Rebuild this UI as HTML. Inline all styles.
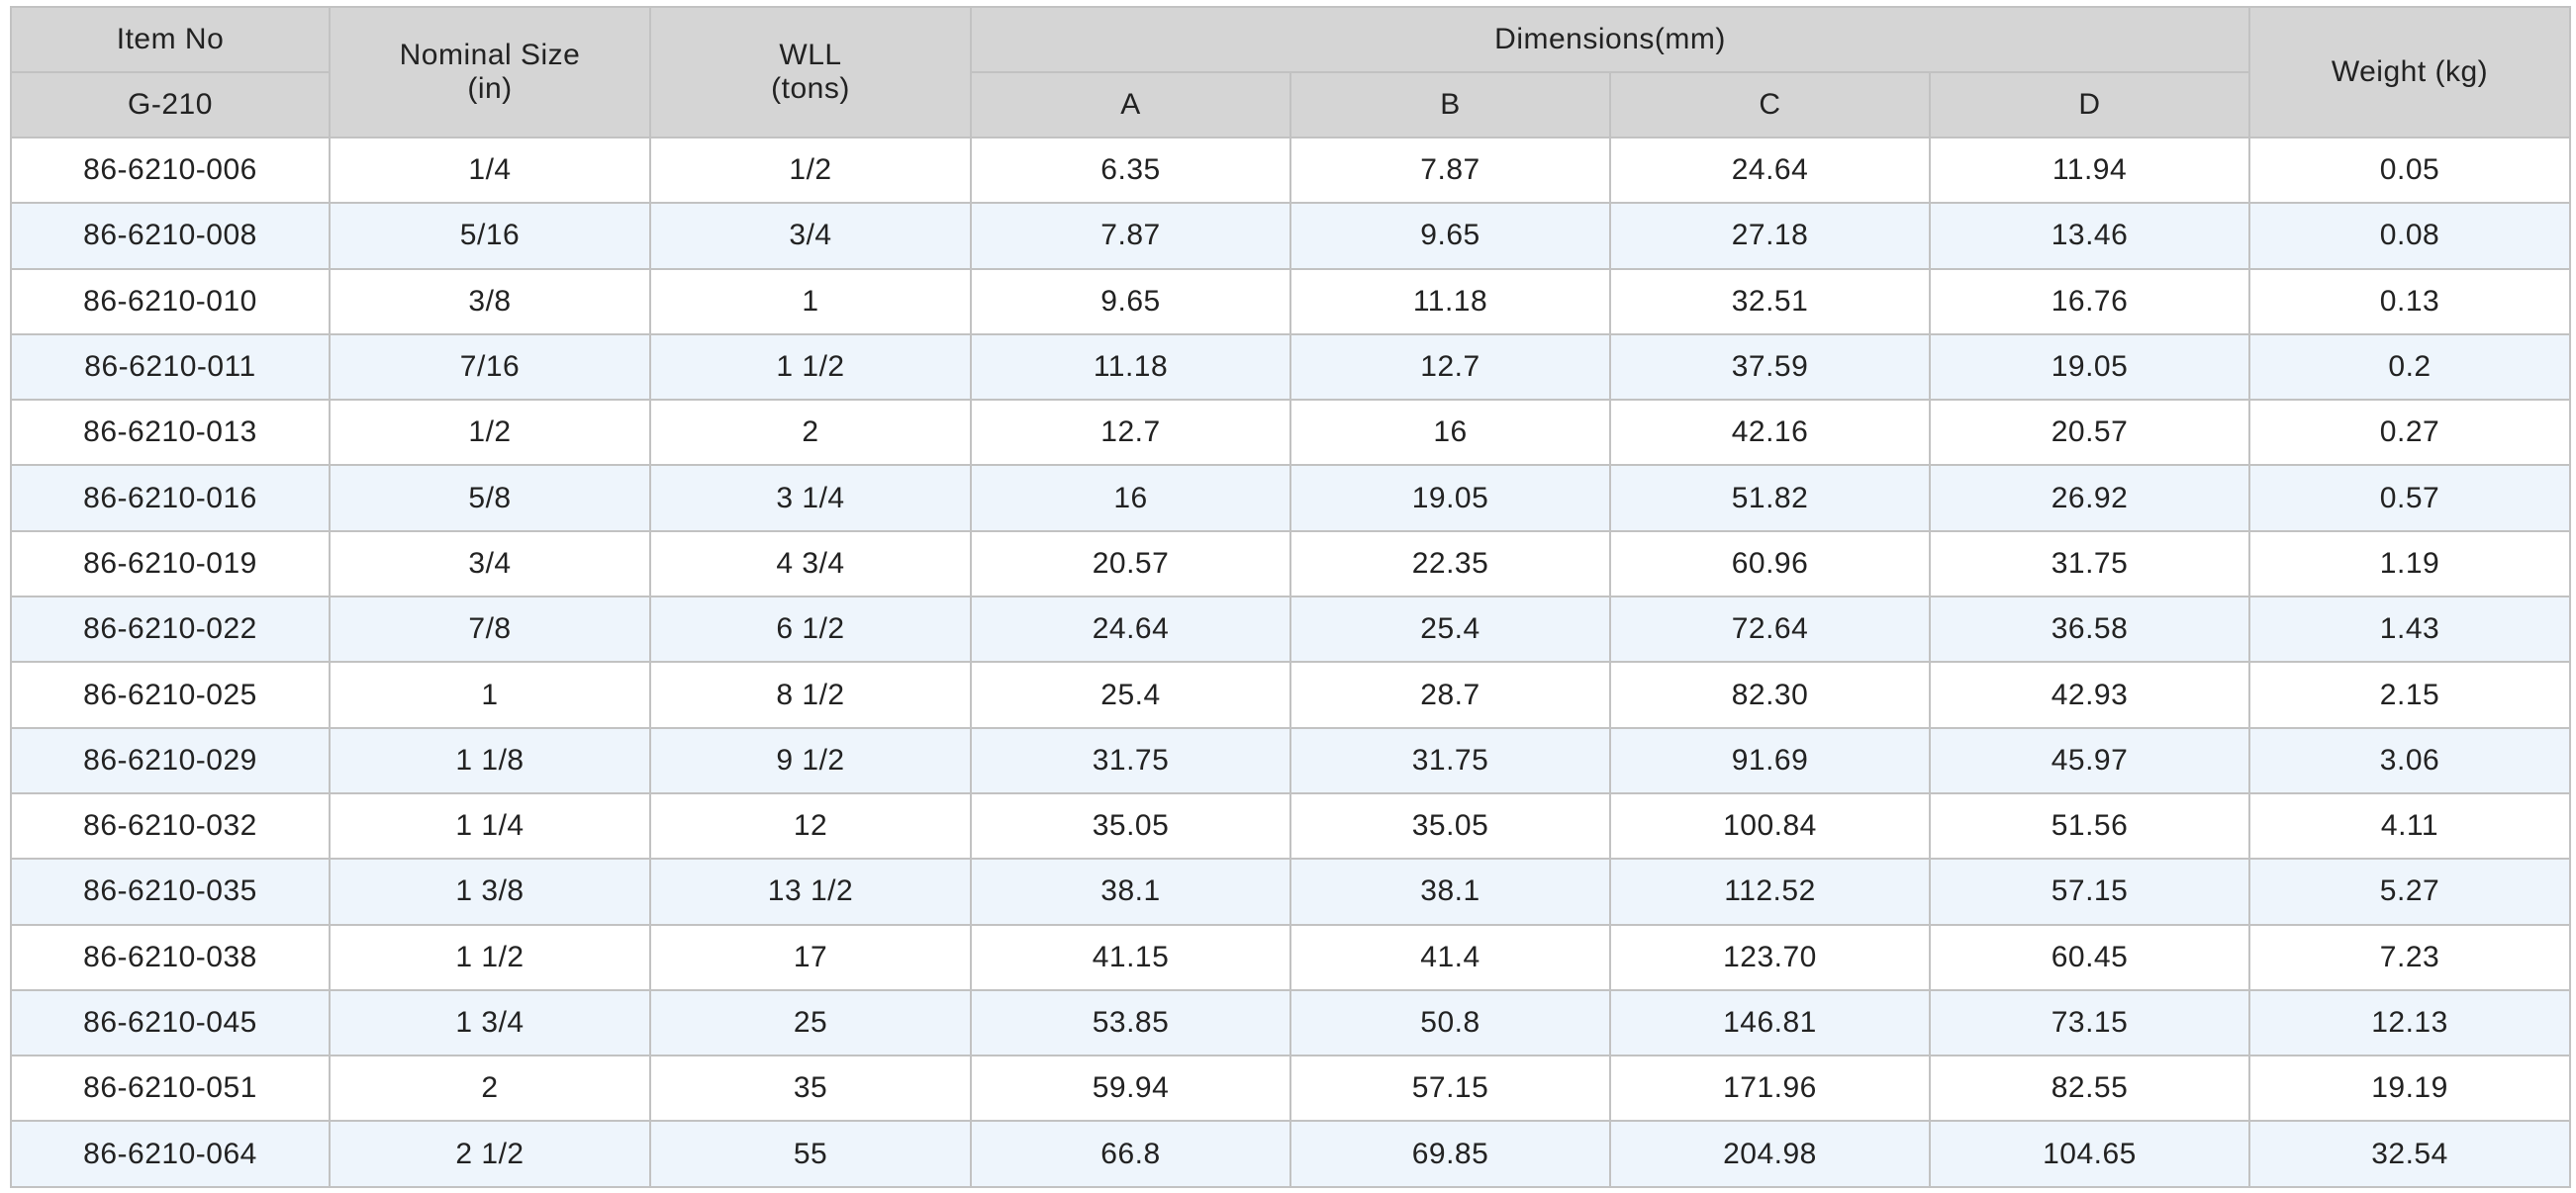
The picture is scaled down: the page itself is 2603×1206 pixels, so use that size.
<!DOCTYPE html>
<html><head><meta charset="utf-8">
<style>
html,body{margin:0;padding:0;background:#fff;width:2603px;height:1206px;overflow:hidden;}
table{position:absolute;left:10px;top:6px;width:2586px;border-collapse:collapse;table-layout:fixed;
font-family:"Liberation Sans",Arial,sans-serif;font-size:30px;color:#222;letter-spacing:0.5px;}
td,th{border:2px solid #c2c2c2;text-align:center;vertical-align:middle;padding:0;font-weight:normal;height:64.3px;box-sizing:border-box;}
thead th{background:#d5d5d5;}
tbody tr:nth-child(even) td{background:#eef5fc;}
tbody tr:nth-child(odd) td{background:#fff;}
</style></head>
<body>
<table>
<colgroup><col style="width:322px"><col style="width:324px"><col style="width:324px"><col style="width:323px"><col style="width:323px"><col style="width:323px"><col style="width:323px"><col style="width:324px"></colgroup>
<thead>
<tr style="height:66px">
<th>Item No</th>
<th rowspan="2">Nominal Size<br>(in)</th>
<th rowspan="2">WLL<br>(tons)</th>
<th colspan="4">Dimensions(mm)</th>
<th rowspan="2">Weight (kg)</th>
</tr>
<tr style="height:66px">
<th>G-210</th>
<th>A</th>
<th>B</th>
<th>C</th>
<th>D</th>
</tr>
</thead>
<tbody id="tb"></tbody>
</table>
<script>
const items=["86-6210-006","86-6210-008","86-6210-010","86-6210-011","86-6210-013","86-6210-016","86-6210-019","86-6210-022","86-6210-025","86-6210-029","86-6210-032","86-6210-035","86-6210-038","86-6210-045","86-6210-051","86-6210-064"];
const sizes=["1/4","5/16","3/8","7/16","1/2","5/8","3/4","7/8","1","1 1/8","1 1/4","1 3/8","1 1/2","1 3/4","2","2 1/2"];
const wll=["1/2","3/4","1","1 1/2","2","3 1/4","4 3/4","6 1/2","8 1/2","9 1/2","12","13 1/2","17","25","35","55"];
const dimA=["6.35","7.87","9.65","11.18","12.7","16","20.57","24.64","25.4","31.75","35.05","38.1","41.15","53.85","59.94","66.8"];
const dimB=["7.87","9.65","11.18","12.7","16","19.05","22.35","25.4","28.7","31.75","35.05","38.1","41.4","50.8","57.15","69.85"];
const dimC=["24.64","27.18","32.51","37.59","42.16","51.82","60.96","72.64","82.30","91.69","100.84","112.52","123.70","146.81","171.96","204.98"];
const dimD=["11.94","13.46","16.76","19.05","20.57","26.92","31.75","36.58","42.93","45.97","51.56","57.15","60.45","73.15","82.55","104.65"];
const weight=["0.05","0.08","0.13","0.2","0.27","0.57","1.19","1.43","2.15","3.06","4.11","5.27","7.23","12.13","19.19","32.54"];
const cols=[["item-no",items],["nominal-size",sizes],["wll",wll],["dim-a",dimA],["dim-b",dimB],["dim-c",dimC],["dim-d",dimD],["weight",weight]];
const tb=document.getElementById('tb');
for(let i=0;i<items.length;i++){
  const tr=document.createElement('tr');
  
  
  tr.style.height='66.3px';
  for(const [n,arr] of cols){
    const td=document.createElement('td');
    
    
    td.textContent=arr[i];
    tr.appendChild(td);
  }
  tb.appendChild(tr);
}
</script>
</body></html>
